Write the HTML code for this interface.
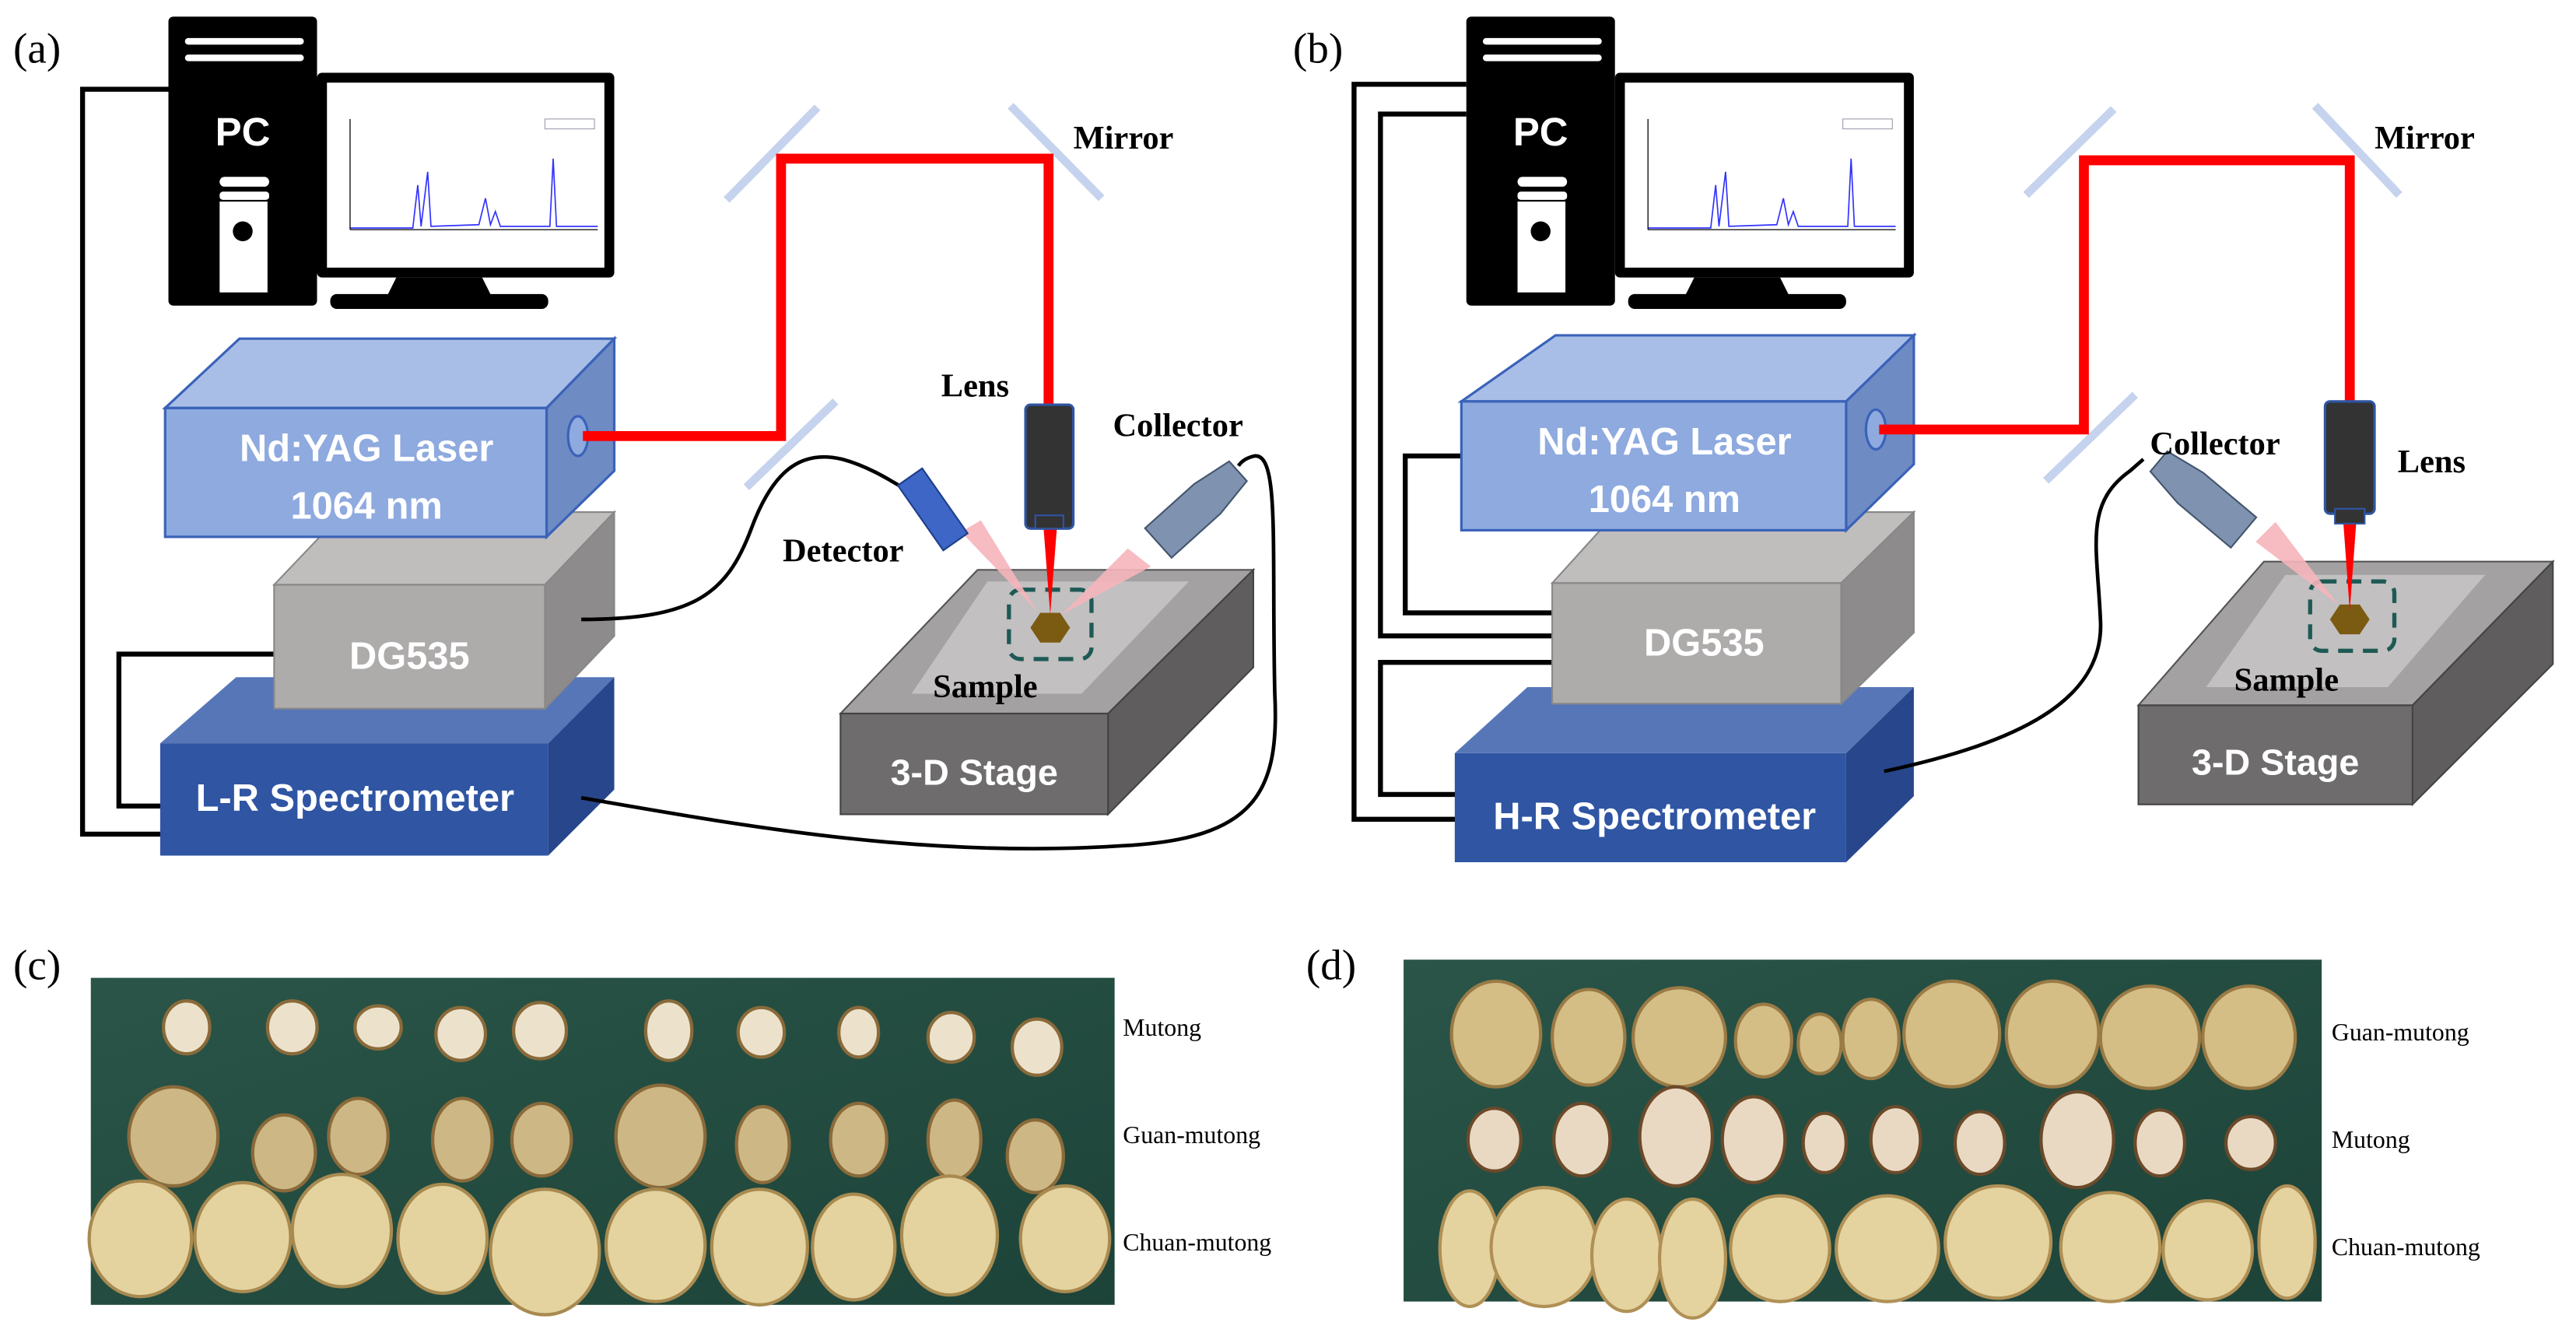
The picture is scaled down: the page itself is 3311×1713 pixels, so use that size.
<!DOCTYPE html>
<html><head><meta charset="utf-8"><style>
html,body{margin:0;padding:0;background:#fff;}
svg{display:block;}
.lb{font-family:"Liberation Serif",serif;font-weight:bold;font-size:20px;fill:#000;}
.bt{font-family:"Liberation Sans",sans-serif;font-weight:bold;fill:#fff;text-anchor:middle;}
.pl{font-family:"Liberation Serif",serif;font-size:26px;fill:#000;}
.ph{font-family:"Liberation Serif",serif;font-size:15px;fill:#000;}
</style></head><body>
<svg width="3311" height="1713" viewBox="0 0 1560 807" xmlns="http://www.w3.org/2000/svg">
<defs>
<linearGradient id="bg" x1="0" y1="0" x2="1" y2="1"><stop offset="0" stop-color="#2a5548"/><stop offset="1" stop-color="#1d4339"/></linearGradient>
</defs>

<!-- ============ PANEL A ============ -->
<text class="pl" x="8" y="38">(a)</text>
<polyline points="104,54 50,54 50,505 98,505" fill="none" stroke="#000" stroke-width="3"/>
<polyline points="166,396 72,396 72,488 98,488" fill="none" stroke="#000" stroke-width="3"/>
<!-- PC -->
<rect x="102" y="10" width="90" height="175" rx="3" fill="#000"/>
<rect x="112" y="23" width="72" height="4" rx="2" fill="#fff"/>
<rect x="112" y="33" width="72" height="4" rx="2" fill="#fff"/>
<text class="bt" x="147" y="88" font-size="24">PC</text>
<rect x="133" y="107" width="30" height="6" rx="3" fill="#fff"/>
<rect x="133" y="116" width="30" height="5" rx="2" fill="#fff"/>
<rect x="133" y="122" width="29" height="55" fill="#fff"/>
<circle cx="147" cy="140" r="6" fill="#000"/>
<rect x="192" y="44" width="180" height="124" rx="3" fill="#000"/>
<rect x="198" y="50" width="168" height="112" fill="#fff"/>
<polygon points="240,168 292,168 298,180 234,180" fill="#000"/>
<rect x="200" y="178" width="132" height="9" rx="4" fill="#000"/>
<polyline points="212,138 250,138 253,112 255,137 259,104 261,137 290,136 294,120 297,136 300,128 303,137 333,137 335,96 337,137 362,137" fill="none" stroke="#33f" stroke-width="0.8"/>
<line x1="212" y1="72" x2="212" y2="139" stroke="#000" stroke-width="0.6"/>
<line x1="212" y1="139" x2="362" y2="139" stroke="#000" stroke-width="0.6"/>
<rect x="330" y="72" width="30" height="6" fill="none" stroke="#99a" stroke-width="0.5"/>
<!-- L-R Spectrometer (bottom first) -->
<polygon points="97,450 143,410 372,410 332,450" fill="#5676b8"/>
<polygon points="332,450 372,410 372,478 332,518" fill="#27468c"/>
<rect x="97" y="450" width="235" height="68" fill="#2f55a3"/>
<text class="bt" x="215" y="491" font-size="23">L-R Spectrometer</text>
<!-- DG535 -->
<polygon points="166,354 208,310 372,310 330,354" fill="#c0bdbd" stroke="#888" stroke-width="1"/>
<polygon points="330,354 372,310 372,385 330,429" fill="#8d8b8b" stroke="#888" stroke-width="1"/>
<rect x="166" y="354" width="164" height="75" fill="#aeabab" stroke="#888" stroke-width="1"/>
<text class="bt" x="248" y="405" font-size="23">DG535</text>
<!-- Laser box -->
<polygon points="100,247 145,205 372,205 331,247" fill="#a9bee7" stroke="#3a62b8" stroke-width="1.5"/>
<polygon points="331,247 372,205 372,285 331,325" fill="#6e8bc4" stroke="#3a62b8" stroke-width="1.5"/>
<rect x="100" y="247" width="231" height="78" fill="#8eaadf" stroke="#3a62b8" stroke-width="1.5"/>
<ellipse cx="350" cy="264" rx="6" ry="12" fill="#8eaadf" stroke="#3a62b8" stroke-width="1.5"/>
<text class="bt" x="222" y="279" font-size="23">Nd:YAG Laser</text>
<text class="bt" x="222" y="314" font-size="23">1064 nm</text>
<!-- Stage -->
<polygon points="509,432 592,345 759,345 671,432" fill="#a3a1a1" stroke="#555" stroke-width="1"/>
<polygon points="552,420 598,352 720,352 655,420" fill="#c2c0c0"/>
<polygon points="671,432 759,345 759,404 671,493" fill="#5f5d5d" stroke="#444" stroke-width="1"/>
<rect x="509" y="432" width="162" height="61" fill="#6e6c6c" stroke="#444" stroke-width="1"/>
<text class="bt" x="590" y="475" font-size="22">3-D Stage</text>
<rect x="611" y="357" width="50" height="42" rx="7" fill="none" stroke="#1e5a55" stroke-width="2.5" stroke-dasharray="9,6"/>
<polygon points="630,371 642,371 648,380 642,389 630,389 624,380" fill="#7b5a12"/>
<text class="lb" x="565" y="422">Sample</text>
<path d="M352,375 C420,375 440,360 455,320 C468,285 485,272 510,278 C525,282 538,290 548,296" fill="none" stroke="#000" stroke-width="2.2"/>
<path d="M352,483 C450,500 560,520 680,512 C760,508 775,480 772,420 C770,330 775,275 760,276 C755,277 752,279 750,282" fill="none" stroke="#000" stroke-width="2.2"/>
<line x1="440" y1="121" x2="495" y2="65" stroke="#c5d3ee" stroke-width="5"/>
<line x1="612" y1="64" x2="667" y2="120" stroke="#c5d3ee" stroke-width="5"/>
<line x1="452" y1="295" x2="506" y2="243" stroke="#c5d3ee" stroke-width="5"/>
<polyline points="353,264 473,264 473,96 635,96 635,245" fill="none" stroke="#f00" stroke-width="6"/>
<polygon points="632,320 640,320 636,372" fill="#f00"/>
<rect x="621" y="245" width="29" height="75" rx="3" fill="#333" stroke="#2f55a3" stroke-width="1.5"/>
<rect x="627" y="312" width="17" height="8" fill="#333" stroke="#2f55a3" stroke-width="1"/>
<polygon points="582,322 594,315 628,370" fill="#f5b5bb" opacity="0.9"/>
<g transform="translate(566,310) rotate(-35)">
<rect x="-9" y="-26" width="18" height="48" fill="#3d66c6" stroke="#1e3f8a" stroke-width="1"/>
</g>
<polygon points="683,332 697,343 643,372" fill="#f5b5bb" opacity="0.9"/>
<g transform="translate(720,312) rotate(48)">
<polygon points="-8,-40 8,-40 12,-15 12,25 -12,25 -12,-15" fill="#7f93b0" stroke="#44556e" stroke-width="1"/>
</g>
<text class="lb" x="650" y="90">Mirror</text>
<text class="lb" x="570" y="240">Lens</text>
<text class="lb" x="674" y="264">Collector</text>
<text class="lb" x="474" y="340">Detector</text>

<!-- ============ PANEL B ============ -->
<text class="pl" x="783" y="38">(b)</text>
<polyline points="888,51 820,51 820,496 882,496" fill="none" stroke="#000" stroke-width="3"/>
<polyline points="888,69 836,69 836,385 940,385" fill="none" stroke="#000" stroke-width="3"/>
<polyline points="885,276 851,276 851,371 940,371" fill="none" stroke="#000" stroke-width="3"/>
<polyline points="940,401 836,401 836,481 882,481" fill="none" stroke="#000" stroke-width="3"/>
<rect x="888" y="10" width="90" height="175" rx="3" fill="#000"/>
<rect x="898" y="23" width="72" height="4" rx="2" fill="#fff"/>
<rect x="898" y="33" width="72" height="4" rx="2" fill="#fff"/>
<text class="bt" x="933" y="88" font-size="24">PC</text>
<rect x="919" y="107" width="30" height="6" rx="3" fill="#fff"/>
<rect x="919" y="116" width="30" height="5" rx="2" fill="#fff"/>
<rect x="919" y="122" width="29" height="55" fill="#fff"/>
<circle cx="933" cy="140" r="6" fill="#000"/>
<rect x="978" y="44" width="181" height="124" rx="3" fill="#000"/>
<rect x="984" y="50" width="169" height="112" fill="#fff"/>
<polygon points="1026,168 1078,168 1084,180 1020,180" fill="#000"/>
<rect x="986" y="178" width="132" height="9" rx="4" fill="#000"/>
<polyline points="998,138 1036,138 1039,112 1041,137 1045,104 1047,137 1076,136 1080,120 1083,136 1086,128 1089,137 1119,137 1121,96 1123,137 1148,137" fill="none" stroke="#33f" stroke-width="0.8"/>
<line x1="998" y1="72" x2="998" y2="139" stroke="#000" stroke-width="0.6"/>
<line x1="998" y1="139" x2="1148" y2="139" stroke="#000" stroke-width="0.6"/>
<rect x="1116" y="72" width="30" height="6" fill="none" stroke="#99a" stroke-width="0.5"/>
<!-- H-R -->
<polygon points="881,456 925,416 1159,416 1118,456" fill="#5676b8"/>
<polygon points="1118,456 1159,416 1159,482 1118,522" fill="#27468c"/>
<rect x="881" y="456" width="237" height="66" fill="#2f55a3"/>
<text class="bt" x="1002" y="502" font-size="23">H-R Spectrometer</text>
<!-- DG535 -->
<polygon points="940,353 979,310 1159,310 1115,353" fill="#c0bdbd" stroke="#888" stroke-width="1"/>
<polygon points="1115,353 1159,310 1159,383 1115,426" fill="#8d8b8b" stroke="#888" stroke-width="1"/>
<rect x="940" y="353" width="175" height="73" fill="#aeabab" stroke="#888" stroke-width="1"/>
<text class="bt" x="1032" y="397" font-size="23">DG535</text>
<!-- Laser -->
<polygon points="885,243 942,203 1159,203 1118,243" fill="#a9bee7" stroke="#3a62b8" stroke-width="1.5"/>
<polygon points="1118,243 1159,203 1159,281 1118,321" fill="#6e8bc4" stroke="#3a62b8" stroke-width="1.5"/>
<rect x="885" y="243" width="233" height="78" fill="#8eaadf" stroke="#3a62b8" stroke-width="1.5"/>
<ellipse cx="1136" cy="260" rx="6" ry="12" fill="#8eaadf" stroke="#3a62b8" stroke-width="1.5"/>
<text class="bt" x="1008" y="275" font-size="23">Nd:YAG Laser</text>
<text class="bt" x="1008" y="310" font-size="23">1064 nm</text>
<!-- Stage -->
<polygon points="1295,427 1371,340 1546,340 1461,427" fill="#a3a1a1" stroke="#555" stroke-width="1"/>
<polygon points="1336,416 1384,348 1505,348 1446,416" fill="#c2c0c0"/>
<polygon points="1461,427 1546,340 1546,402 1461,487" fill="#5f5d5d" stroke="#444" stroke-width="1"/>
<rect x="1295" y="427" width="166" height="60" fill="#6e6c6c" stroke="#444" stroke-width="1"/>
<text class="bt" x="1378" y="469" font-size="22">3-D Stage</text>
<rect x="1399" y="352" width="51" height="42" rx="7" fill="none" stroke="#1e5a55" stroke-width="2.5" stroke-dasharray="9,6"/>
<polygon points="1417,366 1429,366 1435,375 1429,384 1417,384 1411,375" fill="#7b5a12"/>
<text class="lb" x="1353" y="418">Sample</text>
<path d="M1141,467 C1220,450 1275,425 1272,375 C1270,330 1262,305 1290,285 L1298,278" fill="none" stroke="#000" stroke-width="2.2"/>
<line x1="1227" y1="118" x2="1280" y2="66" stroke="#c5d3ee" stroke-width="5"/>
<line x1="1402" y1="64" x2="1453" y2="118" stroke="#c5d3ee" stroke-width="5"/>
<line x1="1239" y1="291" x2="1293" y2="239" stroke="#c5d3ee" stroke-width="5"/>
<polyline points="1138,260 1262,260 1262,97 1423,97 1423,243" fill="none" stroke="#f00" stroke-width="6"/>
<polygon points="1419,315 1427,315 1423,370" fill="#f00"/>
<rect x="1408" y="243" width="30" height="68" rx="3" fill="#333" stroke="#2f55a3" stroke-width="1.5"/>
<rect x="1414" y="308" width="18" height="9" fill="#333" stroke="#2f55a3" stroke-width="1"/>
<polygon points="1366,328 1378,316 1416,366" fill="#f5b5bb" opacity="0.9"/>
<g transform="translate(1338,305) rotate(-50)">
<polygon points="-8,-40 8,-40 12,-15 12,27 -12,27 -12,-15" fill="#7f93b0" stroke="#44556e" stroke-width="1"/>
</g>
<text class="lb" x="1438" y="90">Mirror</text>
<text class="lb" x="1302" y="275">Collector</text>
<text class="lb" x="1452" y="286">Lens</text>

<!-- ============ PANEL C ============ -->
<text class="pl" x="8" y="593">(c)</text>
<rect x="55" y="592" width="620" height="198" fill="url(#bg)"/>
<g stroke="#8a6a3a" stroke-width="2">
<g fill="#ece2cc">
<ellipse cx="113" cy="622" rx="14" ry="16"/><ellipse cx="177" cy="622" rx="15" ry="16"/><ellipse cx="229" cy="622" rx="14" ry="13"/><ellipse cx="279" cy="626" rx="15" ry="16"/><ellipse cx="327" cy="624" rx="16" ry="17"/><ellipse cx="405" cy="624" rx="14" ry="18"/><ellipse cx="461" cy="625" rx="14" ry="15"/><ellipse cx="520" cy="625" rx="12" ry="15"/><ellipse cx="576" cy="628" rx="14" ry="15"/><ellipse cx="628" cy="634" rx="15" ry="17"/>
</g>
<g fill="#cdb784">
<ellipse cx="105" cy="688" rx="27" ry="30"/><ellipse cx="172" cy="698" rx="19" ry="23"/><ellipse cx="217" cy="688" rx="18" ry="23"/><ellipse cx="280" cy="690" rx="18" ry="25"/><ellipse cx="328" cy="690" rx="18" ry="22"/><ellipse cx="400" cy="688" rx="27" ry="31"/><ellipse cx="462" cy="693" rx="16" ry="23"/><ellipse cx="520" cy="690" rx="17" ry="22"/><ellipse cx="578" cy="690" rx="16" ry="24"/><ellipse cx="627" cy="700" rx="17" ry="22"/>
</g>
<g fill="#e4d39f" stroke="#a88a50">
<ellipse cx="85" cy="750" rx="31" ry="35"/><ellipse cx="147" cy="749" rx="29" ry="33"/><ellipse cx="207" cy="745" rx="30" ry="34"/><ellipse cx="268" cy="750" rx="27" ry="33"/><ellipse cx="330" cy="758" rx="33" ry="38"/><ellipse cx="397" cy="754" rx="30" ry="34"/><ellipse cx="460" cy="755" rx="29" ry="35"/><ellipse cx="517" cy="755" rx="25" ry="32"/><ellipse cx="575" cy="748" rx="29" ry="36"/><ellipse cx="645" cy="750" rx="27" ry="32"/>
</g>
</g>
<text class="ph" x="680" y="627">Mutong</text>
<text class="ph" x="680" y="692">Guan-mutong</text>
<text class="ph" x="680" y="757">Chuan-mutong</text>

<!-- ============ PANEL D ============ -->
<text class="pl" x="791" y="593">(d)</text>
<rect x="850" y="581" width="556" height="207" fill="url(#bg)"/>
<g stroke="#9a7a45" stroke-width="2">
<g fill="#d5bd86">
<ellipse cx="906" cy="626" rx="27" ry="32"/><ellipse cx="962" cy="628" rx="22" ry="29"/><ellipse cx="1017" cy="628" rx="28" ry="30"/><ellipse cx="1068" cy="630" rx="17" ry="22"/><ellipse cx="1102" cy="632" rx="13" ry="18"/><ellipse cx="1133" cy="629" rx="17" ry="24"/><ellipse cx="1182" cy="626" rx="29" ry="32"/><ellipse cx="1243" cy="626" rx="28" ry="32"/><ellipse cx="1302" cy="628" rx="30" ry="31"/><ellipse cx="1362" cy="628" rx="28" ry="31"/>
</g>
<g fill="#ead9c2" stroke="#6a4a2a">
<ellipse cx="905" cy="690" rx="16" ry="19"/><ellipse cx="958" cy="690" rx="17" ry="22"/><ellipse cx="1015" cy="688" rx="22" ry="30"/><ellipse cx="1062" cy="690" rx="19" ry="26"/><ellipse cx="1105" cy="692" rx="13" ry="18"/><ellipse cx="1148" cy="690" rx="15" ry="20"/><ellipse cx="1199" cy="692" rx="15" ry="19"/><ellipse cx="1258" cy="690" rx="22" ry="29"/><ellipse cx="1308" cy="692" rx="15" ry="20"/><ellipse cx="1363" cy="692" rx="15" ry="16"/>
</g>
<g fill="#e4d39f" stroke="#b09055">
<ellipse cx="890" cy="756" rx="18" ry="35"/><ellipse cx="935" cy="755" rx="32" ry="36"/><ellipse cx="985" cy="760" rx="21" ry="34"/><ellipse cx="1025" cy="762" rx="20" ry="36"/><ellipse cx="1078" cy="756" rx="30" ry="32"/><ellipse cx="1143" cy="756" rx="31" ry="32"/><ellipse cx="1210" cy="752" rx="32" ry="34"/><ellipse cx="1278" cy="755" rx="30" ry="33"/><ellipse cx="1337" cy="757" rx="27" ry="30"/><ellipse cx="1385" cy="752" rx="17" ry="34"/>
</g>
</g>
<text class="ph" x="1412" y="630">Guan-mutong</text>
<text class="ph" x="1412" y="695">Mutong</text>
<text class="ph" x="1412" y="760">Chuan-mutong</text>
</svg>
</body></html>
